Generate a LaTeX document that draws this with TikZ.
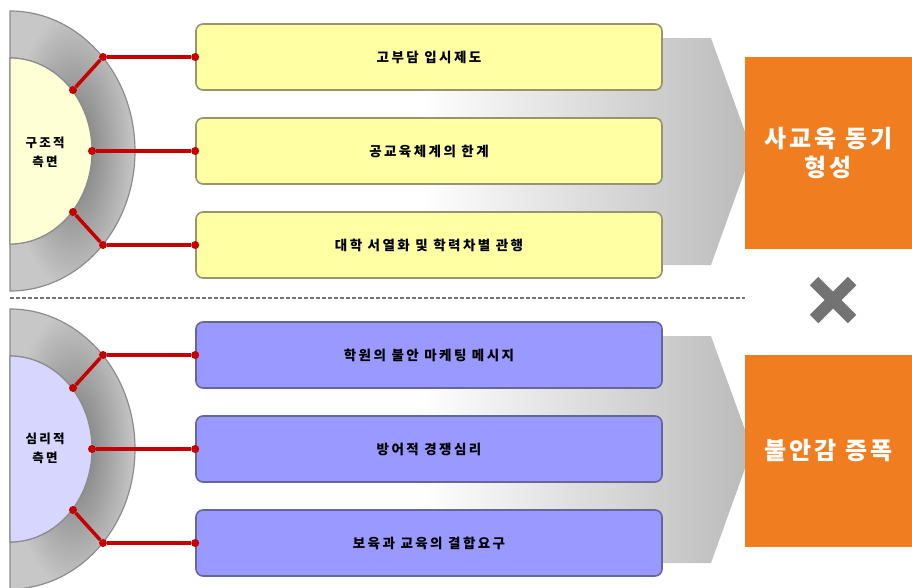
\documentclass[tikz,border=0pt]{standalone}
\usepackage{fontspec}
\setmainfont{Noto Sans CJK KR}
\newfontfamily\spacedfont{Noto Sans CJK KR}[LetterSpace=18]
\newfontfamily\widefont{Noto Sans CJK KR}[LetterSpace=12]
\usetikzlibrary{positioning}
\definecolor{boxyellow}{RGB}{255,255,164}
\definecolor{boxlilac}{RGB}{153,153,255}
\definecolor{coreyellow}{RGB}{255,255,214}
\definecolor{corelilac}{RGB}{214,214,255}
\definecolor{motive}{RGB}{240,125,32}
\definecolor{linkred}{RGB}{196,0,0}

\begin{document}
\begin{tikzpicture}[x=1pt,y=-1pt]
    \tikzstyle{item}=[rectangle,rounded corners=7pt,line width=1.6pt,minimum width=466pt,minimum height=66pt,font=\spacedfont\bfseries\fontsize{13.5}{15}\selectfont]
    \tikzstyle{upper}=[item,fill=boxyellow,draw=black!55!olive!60]
    \tikzstyle{lower}=[item,fill=boxlilac,draw=blue!35!black!60]
    \tikzstyle{dot}=[circle,fill=linkred,inner sep=0pt,minimum size=8pt]
    \tikzstyle{link}=[draw=linkred,line width=3.5pt]
    \tikzstyle{result}=[rectangle,fill=motive,text=white,minimum width=167pt,minimum height=192pt,align=center,font=\widefont\bfseries\fontsize{24}{29}\selectfont]
    \tikzstyle{side}=[align=center,font=\spacedfont\bfseries\fontsize{12.5}{19}\selectfont]
    \useasboundingbox (0,0) rectangle (912,587);

    % separator and multiplication sign
    \draw[black!55,line width=1.6pt,dash pattern=on 4pt off 2pt] (10,298) -- (745,298);
    \draw[black!55,line width=12pt] (814,281) -- (852,319) (852,281) -- (814,319);

    \begin{scope}
      \shade[left color=white,right color=black!27] (420,38) -- (711,38) -- (752,151) -- (711,265) -- (420,265) -- cycle;
      \shade[inner color=black!55,outer color=black!22,draw=black!45,line width=1.2pt,even odd rule]
        (10,11) arc[start angle=90,end angle=-90,x radius=125,y radius=-140] -- cycle
        (10,58) arc[start angle=90,end angle=-90,x radius=82,y radius=-93] -- cycle;
      \fill[coreyellow,draw=black!45,line width=1.2pt] (10,58) arc[start angle=90,end angle=-90,x radius=82,y radius=-93] -- cycle;
      \node[side](core) at (45,152){구조적\\측면};

      \node[upper](box1) at (429,57){고부담 입시제도};
      \node[upper](box2) at (429,151){공교육체계의 한계};
      \node[upper](box3) at (429,245){대학 서열화 및 학력차별 관행};
      \node[result](out) at (828.5,153){사교육 동기\\형성};

      \node[dot](in1) at (73,90){};
      \node[dot](ring1) at (103,57){};
      \node[dot](end1) at (box1.west){};
      \node[dot](in2) at (92,151){};
      \node[dot](end2) at (box2.west){};
      \node[dot](in3) at (73,212){};
      \node[dot](ring3) at (103,245){};
      \node[dot](end3) at (box3.west){};

      \path[link]
      (in1) edge (ring1)
      (ring1) edge (end1)
      (in2) edge (end2)
      (in3) edge (ring3)
      (ring3) edge (end3);
    \end{scope}

    \begin{scope}[yshift=-298pt]
      \shade[left color=white,right color=black!27] (420,38) -- (711,38) -- (752,151) -- (711,265) -- (420,265) -- cycle;
      \shade[inner color=black!55,outer color=black!22,draw=black!45,line width=1.2pt,even odd rule]
        (10,11) arc[start angle=90,end angle=-90,x radius=125,y radius=-140] -- cycle
        (10,58) arc[start angle=90,end angle=-90,x radius=82,y radius=-93] -- cycle;
      \fill[corelilac,draw=black!45,line width=1.2pt] (10,58) arc[start angle=90,end angle=-90,x radius=82,y radius=-93] -- cycle;
      \node[side](core) at (45,150){심리적\\측면};

      \node[lower](box1) at (429,57){학원의 불안 마케팅 메시지};
      \node[lower](box2) at (429,151){방어적 경쟁심리};
      \node[lower](box3) at (429,245){보육과 교육의 결합요구};
      \node[result](out) at (828.5,153){불안감 증폭};

      \node[dot](in1) at (73,90){};
      \node[dot](ring1) at (103,57){};
      \node[dot](end1) at (box1.west){};
      \node[dot](in2) at (92,151){};
      \node[dot](end2) at (box2.west){};
      \node[dot](in3) at (73,212){};
      \node[dot](ring3) at (103,245){};
      \node[dot](end3) at (box3.west){};

      \path[link]
      (in1) edge (ring1)
      (ring1) edge (end1)
      (in2) edge (end2)
      (in3) edge (ring3)
      (ring3) edge (end3);
    \end{scope}
\end{tikzpicture}
\end{document}
